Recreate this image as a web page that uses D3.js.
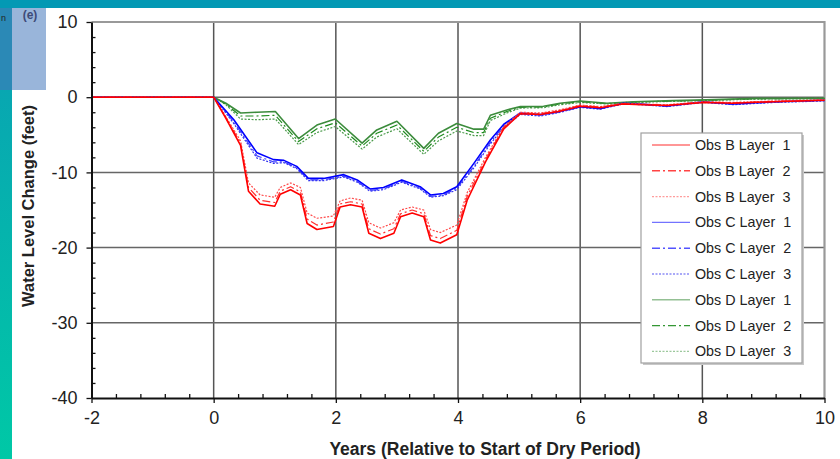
<!DOCTYPE html>
<html>
<head>
<meta charset="utf-8">
<script src="https://cdn.jsdelivr.net/npm/d3@7"></script>
<style>
  body { margin: 0; background: #fff; }
  svg { display: block; font-family: "Liberation Sans", Arial, sans-serif; }
</style>
</head>
<body>
<svg id="chart" width="840" height="459"></svg>
<script>
// data
const xTicks = [-2, 0, 2, 4, 6, 8, 10];
const yTicks = [-40, -30, -20, -10, 0, 10];

const yearsB = [-2, 0, 0.2, 0.44, 0.57, 0.76, 1.0, 1.09, 1.26, 1.42, 1.53, 1.69, 1.96, 2.07, 2.24, 2.43, 2.54, 2.73, 2.95, 3.06, 3.25, 3.44, 3.55, 3.71, 3.98, 4.15, 4.45, 4.75, 5.02, 5.35, 5.65, 6.0, 6.33, 6.7, 7.0, 7.42, 8.02, 8.5, 9.17, 10];
const obsB1 = [0, 0, -2.8, -6.4, -12.5, -14.2, -14.5, -12.9, -12.3, -13.0, -16.8, -17.6, -17.2, -14.6, -14.3, -14.6, -18.1, -18.8, -18.1, -15.9, -15.4, -15.9, -19.0, -19.4, -18.3, -13.7, -8.6, -4.2, -2.2, -2.3, -1.9, -1.2, -1.4, -0.9, -1.0, -1.1, -0.7, -0.8, -0.6, -0.4];
const obsB2 = [0, 0, -2.7, -6.1, -12.0, -13.7, -14.0, -12.5, -11.9, -12.6, -16.2, -17.0, -16.6, -14.2, -13.9, -14.2, -17.5, -18.2, -17.5, -15.5, -15.0, -15.5, -18.4, -18.8, -17.7, -13.2, -8.3, -4.0, -2.1, -2.2, -1.8, -1.1, -1.3, -0.85, -0.95, -1.05, -0.65, -0.75, -0.55, -0.4];
const obsB3 = [0, 0, -2.6, -5.8, -11.4, -13.0, -13.3, -12.0, -11.4, -12.0, -15.4, -16.1, -15.8, -13.8, -13.4, -13.7, -16.7, -17.4, -16.7, -15.0, -14.6, -15.0, -17.6, -18.0, -17.0, -12.7, -8.0, -3.9, -2.0, -2.1, -1.7, -1.05, -1.25, -0.8, -0.9, -1.0, -0.6, -0.7, -0.5, -0.35];

const yearsC = [-2, 0, 0.33, 0.71, 0.98, 1.15, 1.36, 1.55, 1.80, 2.13, 2.35, 2.56, 2.78, 3.08, 3.38, 3.55, 3.76, 3.98, 4.26, 4.53, 4.75, 5.02, 5.35, 5.65, 6.0, 6.33, 6.7, 7.0, 7.42, 8.02, 8.51, 9.17, 10];
const obsC1 = [0, 0, -3.0, -7.4, -8.3, -8.4, -9.2, -10.8, -10.8, -10.3, -11.0, -12.2, -12.0, -11.0, -11.9, -13.0, -12.8, -11.9, -8.8, -5.7, -3.6, -2.1, -2.3, -1.9, -1.25, -1.5, -0.8, -0.9, -1.16, -0.6, -0.9, -0.6, -0.4];
const obsC2 = [0, 0, -3.3, -7.8, -8.6, -8.6, -9.4, -11.0, -11.0, -10.5, -11.2, -12.4, -12.2, -11.2, -12.1, -13.2, -13.0, -12.1, -9.2, -6.0, -3.8, -2.2, -2.4, -2.0, -1.3, -1.55, -0.85, -0.95, -1.2, -0.65, -0.95, -0.65, -0.45];
const obsC3 = [0, 0, -3.5, -8.1, -8.8, -8.7, -9.5, -11.1, -11.1, -10.6, -11.3, -12.5, -12.3, -11.3, -12.2, -13.3, -13.1, -12.3, -9.4, -6.2, -4.0, -2.3, -2.5, -2.05, -1.35, -1.6, -0.9, -1.0, -1.25, -0.7, -1.0, -0.7, -0.5];

const yearsD = [-2, 0, 0.2, 0.44, 0.71, 1.01, 1.39, 1.69, 1.99, 2.43, 2.67, 3.0, 3.44, 3.68, 3.98, 4.26, 4.42, 4.53, 4.8, 5.02, 5.4, 5.67, 6.0, 6.44, 6.87, 7.53, 8.07, 8.89, 10];
const obsD1 = [0, 0, -0.8, -2.1, -2.0, -1.9, -5.5, -3.7, -2.9, -6.1, -4.35, -3.2, -6.8, -4.8, -3.5, -4.25, -4.25, -2.4, -1.7, -1.25, -1.2, -0.8, -0.5, -0.8, -0.6, -0.45, -0.35, -0.15, -0.15];
const obsD2 = [0, 0, -0.9, -2.5, -2.5, -2.4, -5.9, -4.2, -3.4, -6.5, -4.8, -3.7, -7.2, -5.3, -4.0, -4.7, -4.7, -2.8, -1.9, -1.35, -1.3, -0.9, -0.6, -0.85, -0.65, -0.5, -0.4, -0.2, -0.15];
const obsD3 = [0, 0, -1.0, -2.9, -3.0, -2.9, -6.3, -4.7, -3.9, -6.9, -5.3, -4.2, -7.6, -5.8, -4.5, -5.1, -5.1, -3.1, -2.1, -1.45, -1.4, -1.0, -0.7, -0.9, -0.7, -0.55, -0.45, -0.25, -0.2];

const seriesNames = ["Obs B Layer  1", "Obs B Layer  2", "Obs B Layer  3", "Obs C Layer  1", "Obs C Layer  2", "Obs C Layer  3", "Obs D Layer  1", "Obs D Layer  2", "Obs D Layer  3"];

const series = [
  { name: seriesNames[0], x: yearsB, y: obsB1, color: "#ff0000", dash: null, w: 1.6 },
  { name: seriesNames[1], x: yearsB, y: obsB2, color: "#ff3030", dash: "8,3,2,3", w: 1.2 },
  { name: seriesNames[2], x: yearsB, y: obsB3, color: "#ff4a4a", dash: "2,1.5", w: 1.2 },
  { name: seriesNames[3], x: yearsC, y: obsC1, color: "#0000ff", dash: null, w: 1.6 },
  { name: seriesNames[4], x: yearsC, y: obsC2, color: "#4040ff", dash: "8,3,2,3", w: 1.2 },
  { name: seriesNames[5], x: yearsC, y: obsC3, color: "#3030ee", dash: "2,1.5", w: 1.2 },
  { name: seriesNames[6], x: yearsD, y: obsD1, color: "#3c8c3c", dash: null, w: 1.6 },
  { name: seriesNames[7], x: yearsD, y: obsD2, color: "#1e8c1e", dash: "8,3,2,3", w: 1.2 },
  { name: seriesNames[8], x: yearsD, y: obsD3, color: "#4a9a4a", dash: "2,1.5", w: 1.2 }
];

const svg = d3.select("#chart");

// page decoration (slide background)
const grad = svg.append("defs").append("linearGradient")
  .attr("id", "side").attr("x1", 0).attr("y1", 0).attr("x2", 0).attr("y2", 1);
grad.append("stop").attr("offset", "0%").attr("stop-color", "#0a9fb4");
grad.append("stop").attr("offset", "100%").attr("stop-color", "#00c8a6");
svg.append("rect").attr("x", 0).attr("y", 0).attr("width", 12).attr("height", 459).attr("fill", "url(#side)");
svg.append("rect").attr("x", 0).attr("y", 8).attr("width", 12).attr("height", 82).attr("fill", "#2b89b6");
svg.append("rect").attr("x", 0).attr("y", 0).attr("width", 840).attr("height", 8).attr("fill", "#0399b4");
svg.append("rect").attr("x", 12).attr("y", 8).attr("width", 34).attr("height", 82).attr("fill", "#99b5da");
svg.append("text").attr("x", 30).attr("y", 19).attr("text-anchor", "middle")
  .attr("font-size", 12).attr("font-weight", "bold").attr("fill", "#3d4a78").text("(e)");
svg.append("text").attr("x", 1).attr("y", 21).attr("font-size", 9).attr("fill", "#222").text("n");

const x = d3.scaleLinear().domain([-2, 10]).range([91.5, 824.5]);
const y = d3.scaleLinear().domain([-40, 10]).range([398, 22]);

// grid
const grid = svg.append("g");
grid.selectAll("line.v").data(xTicks.filter(d => d > -2 && d < 10)).enter().append("line")
  .attr("x1", d => x(d)).attr("x2", d => x(d)).attr("y1", y(10)).attr("y2", y(-40))
  .attr("stroke", "#555").attr("stroke-width", 1.5);
grid.selectAll("line.h").data(yTicks.filter(d => d > -40 && d < 10)).enter().append("line")
  .attr("x1", x(-2)).attr("x2", x(10)).attr("y1", d => y(d)).attr("y2", d => y(d))
  .attr("stroke", "#666").attr("stroke-width", 1.5);
// frame top / right
svg.append("path")
  .attr("d", `M${x(-2)},${y(10)}H${x(10)}V${y(-40)}`)
  .attr("fill", "none").attr("stroke", "#999").attr("stroke-width", 2.2);

// series
const line = d3.line().x(d => x(d[0])).y(d => y(d[1]));
svg.append("g").selectAll("path").data(series.slice().reverse()).enter().append("path")
  .attr("d", s => line(s.x.map((v, i) => [v, s.y[i]])))
  .attr("fill", "none")
  .attr("stroke", s => s.color)
  .attr("stroke-width", s => s.w)
  .attr("stroke-dasharray", s => s.dash)
  .attr("stroke-linejoin", "round");

// axes
const minorX = d3.range(-2, 10.001, 0.4).filter(v => Math.abs(v - Math.round(v / 2) * 2) > 0.01);
const minorY = d3.range(-40, 10.001, 2).filter(v => v % 10 !== 0);
const fmt = d => String(d);

const xAxis = svg.append("g").attr("transform", `translate(0,${y(-40)})`)
  .call(d3.axisBottom(x).tickValues(xTicks).tickFormat(fmt).tickSize(5).tickSizeOuter(0).tickPadding(8));
svg.append("g").attr("transform", `translate(0,${y(-40)})`)
  .call(d3.axisTop(x).tickValues(minorX).tickSize(4).tickSizeOuter(0).tickFormat(""))
  .select(".domain").remove();
const yAxis = svg.append("g").attr("transform", `translate(${x(-2)},0)`)
  .call(d3.axisLeft(y).tickValues(yTicks).tickFormat(fmt).tickSize(5).tickSizeOuter(0).tickPadding(9));
svg.append("g").attr("transform", `translate(${x(-2)},0)`)
  .call(d3.axisRight(y).tickValues(minorY).tickSize(4).tickSizeOuter(0).tickFormat(""))
  .select(".domain").remove();

svg.selectAll(".tick line").attr("stroke", "#111").attr("stroke-width", 1.3);
svg.selectAll(".domain").attr("stroke", "#111").attr("stroke-width", 2);
[xAxis, yAxis].forEach(a => a.selectAll("text")
  .attr("font-size", 18).attr("fill", "#222")
  .attr("font-family", "'Liberation Sans', Arial, sans-serif"));

// axis titles
svg.append("text").attr("x", 485).attr("y", 455).attr("text-anchor", "middle")
  .attr("font-size", 17.5).attr("font-weight", "bold").attr("fill", "#222")
  .text("Years (Relative to Start of Dry Period)");
svg.append("text").attr("transform", "translate(34,206) rotate(-90)").attr("text-anchor", "middle")
  .attr("font-size", 16.5).attr("font-weight", "bold").attr("fill", "#222")
  .text("Water Level Change (feet)");

// legend
const lg = svg.append("g").attr("transform", "translate(641,133)");
lg.append("rect").attr("x", 2).attr("y", 2).attr("width", 161).attr("height", 230).attr("fill", "#c8c8c8");
lg.append("rect").attr("width", 161).attr("height", 230).attr("fill", "#fff")
  .attr("stroke", "#a0a0a0").attr("stroke-width", 1.2);
const rows = lg.selectAll("g.row").data(series).enter().append("g")
  .attr("transform", (d, i) => `translate(0,${12 + i * 25.8})`);
rows.append("line").attr("x1", 11).attr("x2", 49).attr("y1", 0).attr("y2", 0)
  .attr("stroke", d => d.color).attr("stroke-opacity", (d, i) => i % 3 === 1 ? 0.9 : 0.55)
  .attr("stroke-width", 1.4).attr("stroke-dasharray", d => d.dash);
rows.append("text").attr("x", 54).attr("y", 5).attr("font-size", 14.3).attr("fill", "#222")
  .style("white-space", "pre").text(d => d.name);
</script>
</body>
</html>
